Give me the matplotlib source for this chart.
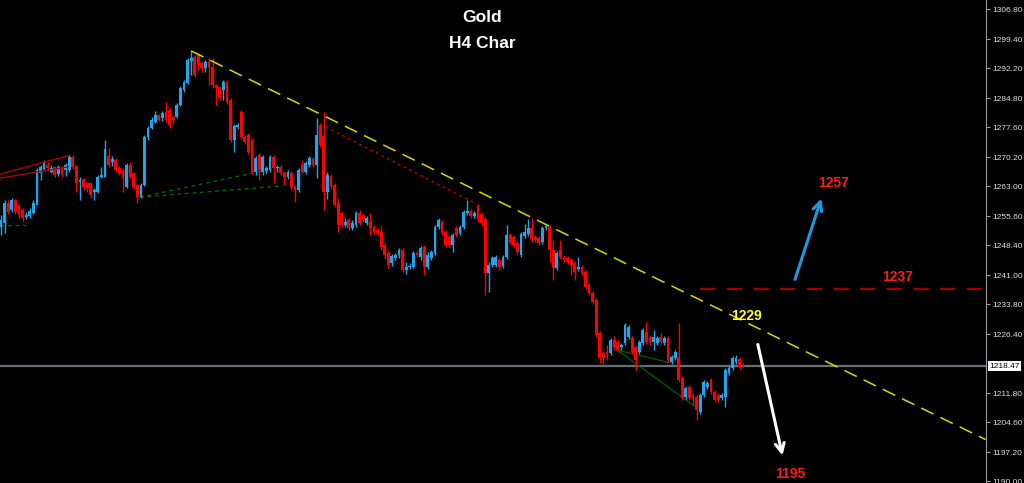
import numpy as np
import matplotlib
matplotlib.use("Agg")
import matplotlib.pyplot as plt

# H4 gold candles (oldest -> newest)
opens = [
    1252.9, 1253.9, 1258.9, 1257.1, 1259.6, 1258.4, 1257.1, 1255.4, 1255.6, 1256.4,
    1258.4, 1266.3, 1267.3, 1268.3, 1266.5, 1267.8, 1266.0, 1267.8, 1267.0, 1267.0,
    1270.2, 1268.0, 1264.1, 1264.8, 1263.8, 1263.8, 1261.6, 1261.6, 1265.3, 1265.3,
    1270.5, 1269.0, 1269.5, 1267.5, 1267.0,
    1262.8, 1268.3, 1266.3, 1263.3, 1260.3, 1263.3, 1275.2, 1277.4, 1278.9, 1280.6,
    1279.9, 1281.4, 1281.9, 1280.1, 1280.1, 1283.1, 1286.8, 1288.6, 1294.0, 1295.0,
    1295.5, 1293.5, 1292.3, 1293.8, 1292.5, 1288.1, 1287.6, 1286.8, 1288.8, 1284.4,
    1274.5, 1277.7, 1281.4, 1275.2, 1275.7,
    1274.5, 1266.5, 1270.7, 1266.5, 1266.8, 1267.0, 1270.2, 1267.5, 1267.8, 1266.3,
    1265.3, 1266.3, 1262.8, 1262.1, 1268.3, 1266.5, 1268.3, 1269.7, 1268.3, 1278.2,
    1275.4, 1261.6, 1265.5, 1263.3, 1258.9, 1256.4, 1253.4, 1254.7, 1252.7, 1253.4,
    1256.4, 1255.9, 1253.9, 1254.2, 1252.9,
    1252.2, 1251.7, 1248.5, 1246.5, 1244.0, 1245.2, 1246.0, 1247.2, 1242.3, 1243.0,
    1243.0, 1246.5, 1245.5, 1248.0, 1243.0, 1245.2, 1246.5, 1252.9, 1254.2, 1251.7,
    1250.4, 1248.5, 1252.7, 1251.4, 1252.9, 1256.4, 1256.9, 1255.6, 1258.1, 1256.1,
    1254.9, 1241.5, 1243.5, 1243.5, 1244.7,
    1243.3, 1245.5, 1250.9, 1250.4, 1249.0, 1246.0, 1250.7, 1251.2, 1252.7, 1250.4,
    1250.2, 1249.2, 1252.7, 1252.9, 1247.2, 1242.8, 1247.2, 1245.5, 1245.2, 1244.7,
    1244.0, 1242.5, 1243.0, 1241.8, 1238.6, 1236.6, 1234.9, 1226.7, 1221.7, 1222.0,
    1221.7, 1225.0, 1224.5, 1223.2, 1224.2,
    1225.7, 1225.5, 1223.2, 1222.0, 1224.2, 1226.9, 1225.7, 1224.5, 1224.2, 1225.7,
    1224.2, 1225.5, 1219.5, 1220.5, 1220.7, 1215.5, 1210.8, 1213.3, 1211.3, 1210.8,
    1207.1, 1211.3, 1213.3, 1215.0, 1212.1, 1211.3, 1210.6, 1210.8, 1216.8, 1218.0,
    1219.5, 1220.2, 1218.8,
]
highs = [
    1255.9, 1259.6, 1259.6, 1260.1, 1259.8, 1258.6, 1257.6, 1256.6, 1257.6, 1259.6,
    1267.5, 1268.3, 1269.5, 1269.0, 1268.3, 1268.0, 1268.3, 1268.0, 1268.8, 1270.7,
    1270.7, 1268.3, 1265.3, 1265.0, 1264.1, 1264.1, 1262.6, 1265.8, 1267.8, 1274.5,
    1272.5, 1270.5, 1270.0, 1268.0, 1267.5,
    1268.8, 1269.0, 1266.5, 1263.6, 1263.8, 1275.7, 1277.9, 1280.1, 1281.6, 1280.9,
    1281.6, 1283.9, 1282.4, 1280.6, 1283.6, 1287.8, 1289.3, 1294.7, 1296.5, 1295.5,
    1295.7, 1294.0, 1294.2, 1294.7, 1294.7, 1288.3, 1287.8, 1289.3, 1289.3, 1284.8,
    1278.4, 1278.7, 1281.9, 1275.7, 1276.2,
    1275.0, 1270.5, 1271.2, 1270.7, 1268.0, 1270.7, 1270.7, 1268.3, 1268.3, 1266.8,
    1267.0, 1266.8, 1263.3, 1267.5, 1269.5, 1269.3, 1270.5, 1270.2, 1279.9, 1278.7,
    1281.4, 1266.5, 1266.0, 1263.8, 1260.1, 1256.9, 1255.1, 1255.1, 1254.7, 1256.9,
    1257.1, 1256.4, 1255.6, 1256.4, 1253.4,
    1252.7, 1253.2, 1249.0, 1247.2, 1246.2, 1246.5, 1247.7, 1247.7, 1244.3, 1244.0,
    1247.0, 1247.2, 1248.2, 1248.5, 1246.7, 1247.2, 1253.4, 1255.1, 1254.7, 1252.2,
    1250.9, 1251.4, 1253.2, 1253.4, 1257.1, 1259.6, 1257.4, 1256.9, 1258.6, 1256.6,
    1255.4, 1244.3, 1245.7, 1246.0, 1245.2,
    1246.0, 1253.4, 1251.4, 1250.9, 1249.5, 1251.7, 1253.7, 1254.9, 1255.1, 1250.9,
    1250.7, 1253.2, 1253.4, 1253.4, 1249.7, 1247.0, 1249.7, 1246.0, 1245.7, 1245.2,
    1244.5, 1245.5, 1243.5, 1242.3, 1239.1, 1237.1, 1235.3, 1227.2, 1222.2, 1223.7,
    1225.5, 1225.9, 1225.0, 1224.2, 1229.2,
    1228.7, 1225.9, 1223.7, 1225.0, 1227.9, 1229.4, 1226.2, 1227.4, 1225.9, 1226.7,
    1225.9, 1225.9, 1221.2, 1222.5, 1229.2, 1216.0, 1213.6, 1213.8, 1211.8, 1211.3,
    1211.8, 1215.0, 1214.8, 1215.5, 1212.6, 1211.8, 1211.8, 1218.0, 1218.5, 1221.0,
    1221.2, 1220.7, 1219.3,
]
lows = [
    1250.9, 1251.4, 1256.1, 1256.6, 1256.1, 1255.1, 1254.2, 1254.9, 1255.1, 1256.1,
    1258.4, 1264.6, 1267.0, 1267.0, 1266.3, 1265.3, 1265.5, 1265.3, 1265.5, 1266.5,
    1267.3, 1261.6, 1259.6, 1262.1, 1261.6, 1260.1, 1259.6, 1261.3, 1265.0, 1265.3,
    1267.8, 1268.0, 1266.5, 1265.8, 1261.6,
    1262.6, 1265.0, 1262.3, 1258.9, 1260.1, 1263.1, 1274.5, 1277.2, 1278.7, 1279.2,
    1279.2, 1278.9, 1277.4, 1278.4, 1279.9, 1282.9, 1286.3, 1288.3, 1290.5, 1290.0,
    1291.8, 1291.3, 1291.3, 1288.1, 1287.3, 1283.1, 1284.4, 1284.4, 1283.4, 1273.9,
    1271.5, 1277.2, 1274.7, 1273.5, 1271.0,
    1266.0, 1265.8, 1264.6, 1265.8, 1266.3, 1266.5, 1263.8, 1266.5, 1265.8, 1263.3,
    1264.8, 1262.1, 1259.1, 1261.6, 1266.3, 1266.0, 1267.8, 1267.8, 1265.0, 1272.7,
    1257.1, 1259.8, 1262.3, 1257.8, 1251.7, 1252.9, 1252.9, 1252.2, 1252.2, 1252.9,
    1253.4, 1254.2, 1253.4, 1250.9, 1251.2,
    1250.9, 1247.2, 1245.0, 1242.8, 1243.3, 1244.8, 1245.2, 1241.8, 1241.3, 1242.5,
    1242.8, 1245.5, 1244.8, 1241.0, 1242.5, 1244.8, 1246.0, 1252.4, 1250.9, 1248.0,
    1248.0, 1246.7, 1250.4, 1250.9, 1252.4, 1255.9, 1255.1, 1255.1, 1254.2, 1253.2,
    1236.1, 1236.8, 1243.0, 1243.0, 1242.3,
    1242.8, 1245.0, 1248.7, 1248.0, 1246.2, 1245.5, 1250.2, 1250.7, 1249.2, 1249.2,
    1248.5, 1248.7, 1252.2, 1244.3, 1239.8, 1242.3, 1245.0, 1244.3, 1243.8, 1241.0,
    1239.8, 1242.0, 1241.0, 1237.6, 1236.1, 1233.9, 1225.7, 1219.3, 1218.8, 1220.0,
    1221.2, 1222.5, 1222.0, 1222.5, 1223.7,
    1225.2, 1221.5, 1217.5, 1221.5, 1223.7, 1224.0, 1223.7, 1222.5, 1223.7, 1224.0,
    1223.7, 1219.5, 1219.0, 1220.0, 1214.6, 1210.1, 1210.3, 1210.1, 1208.9, 1205.2,
    1206.6, 1210.8, 1212.8, 1211.6, 1209.6, 1209.6, 1210.1, 1208.4, 1216.3, 1217.5,
    1219.0, 1217.8, 1218.3,
]
closes = [
    1254.7, 1258.9, 1256.6, 1259.6, 1256.6, 1255.9, 1255.1, 1255.9, 1256.9, 1258.9,
    1267.0, 1267.8, 1268.8, 1267.5, 1267.5, 1265.8, 1267.8, 1265.8, 1268.3, 1270.2,
    1267.8, 1263.8, 1264.3, 1262.8, 1262.6, 1260.8, 1262.1, 1265.3, 1265.8, 1272.2,
    1268.3, 1269.7, 1267.0, 1266.3, 1265.3,
    1268.3, 1265.3, 1262.8, 1260.3, 1263.3, 1275.2, 1277.4, 1279.4, 1280.6, 1279.4,
    1281.1, 1279.4, 1278.2, 1279.4, 1283.1, 1287.3, 1288.8, 1294.2, 1294.7, 1290.5,
    1293.0, 1292.3, 1293.8, 1292.5, 1288.1, 1287.3, 1284.8, 1288.8, 1283.9, 1274.5,
    1277.9, 1278.2, 1275.2, 1274.0, 1271.5,
    1266.5, 1270.0, 1267.0, 1270.2, 1267.5, 1270.2, 1267.5, 1267.8, 1266.3, 1265.3,
    1266.5, 1262.8, 1262.1, 1267.0, 1266.5, 1268.8, 1270.0, 1268.3, 1275.7, 1273.2,
    1261.6, 1265.8, 1262.8, 1258.4, 1253.4, 1253.4, 1254.2, 1252.7, 1253.9, 1256.4,
    1253.9, 1254.7, 1255.1, 1252.7, 1251.7,
    1251.4, 1248.0, 1246.0, 1243.5, 1245.7, 1246.0, 1247.2, 1242.3, 1243.0, 1243.3,
    1246.5, 1246.0, 1247.7, 1243.0, 1246.0, 1246.7, 1252.9, 1254.7, 1251.4, 1248.5,
    1248.5, 1250.9, 1250.9, 1252.9, 1256.6, 1256.9, 1255.6, 1256.4, 1254.7, 1253.9,
    1241.5, 1243.5, 1245.2, 1245.5, 1243.0,
    1245.5, 1250.9, 1249.2, 1248.5, 1246.7, 1251.2, 1251.7, 1252.7, 1249.9, 1249.7,
    1248.9, 1252.7, 1252.9, 1247.2, 1242.8, 1246.5, 1245.5, 1244.7, 1244.3, 1243.5,
    1241.8, 1243.0, 1241.5, 1238.1, 1236.6, 1234.4, 1226.2, 1220.5, 1220.5, 1221.5,
    1225.0, 1223.2, 1222.5, 1223.7, 1228.7,
    1228.2, 1222.0, 1220.0, 1224.5, 1227.4, 1224.5, 1224.2, 1225.7, 1225.5, 1224.5,
    1225.5, 1220.0, 1220.7, 1222.0, 1215.0, 1210.6, 1213.1, 1210.6, 1210.6, 1207.6,
    1211.3, 1214.6, 1214.3, 1212.1, 1210.1, 1210.1, 1211.3, 1217.5, 1218.0, 1220.5,
    1220.5, 1218.3, 1218.5,
]

price_ticks = [1306.80, 1299.40, 1292.20, 1284.80, 1277.60, 1270.20, 1263.00, 1255.60,
               1248.40, 1241.00, 1233.80, 1226.40, 1211.80, 1204.60, 1197.20, 1190.00]
last_price = 1218.47

# drawn objects: (bar index, price) pairs
yellow_trend = [(53, 1296.5), (274.6, 1200.3)]
red_dotted = [(89, 1278.4), (132.6, 1258.6)]
red_left_1 = [(-0.3, 1266.0), (19.3, 1270.7)]
red_left_2 = [(-0.3, 1265.0), (18.7, 1267.8)]
green_dash_1 = [(38.8, 1260.3), (74.2, 1267.0)]
green_dash_2 = [(38.8, 1260.3), (78.7, 1263.1)]
green_dash_3 = [(-0.3, 1253.4), (8.0, 1253.4)]
green_line_1 = [(171.8, 1222.5), (186.6, 1219.3)]
green_line_2 = [(171.8, 1222.5), (194.1, 1208.1)]
resistance = 1237.5
resistance_start = 195
blue_arrow = [(221.2, 1239.3), (229.0, 1260.6)]
white_arrow = [(210.9, 1224.5), (218.1, 1195.7)]
labels = [("1257", 232.1, 1263.8, "#ff1a1a"), ("1237", 250.0, 1240.5, "#ff1a1a"),
          ("1229", 207.8, 1230.9, "#ffff33"), ("1195", 220.1, 1191.8, "#ff1a1a")]

o = np.array(opens); c = np.array(closes)
h = np.array(highs); l = np.array(lows)
x = np.arange(len(c))
up = c >= o
bull, bear = "#1ea5ec", "#ff0000"
cols = np.where(up, bull, bear)

fig = plt.figure(figsize=(10.24, 4.83), dpi=100, facecolor="black")
ax = fig.add_axes([0, 0, 986 / 1024, 1])
ax.set_facecolor("black")

ax.vlines(x, np.minimum(l, np.minimum(o, c)), np.maximum(h, np.maximum(o, c)),
          colors=cols, lw=1.0, zorder=3)
body = np.maximum(np.abs(c - o), 0.35)
ax.bar(x, body, bottom=np.minimum(o, c), width=0.78, color=cols, lw=0, zorder=4)

def seg(pts, **kw):
    (x0, y0), (x1, y1) = pts
    ax.plot([x0, x1], [y0, y1], **kw)

seg(yellow_trend, color="#d8d800", lw=1.1, dashes=(9, 5), zorder=5)
seg(red_dotted, color="#c00000", lw=1.0, dashes=(2, 2.5), zorder=5)
seg(red_left_1, color="#b00000", lw=1.0, zorder=5)
seg(red_left_2, color="#b00000", lw=1.0, zorder=5)
for g in (green_dash_1, green_dash_2, green_dash_3):
    seg(g, color="#007000", lw=0.9, dashes=(3, 3), zorder=2)
for g in (green_line_1, green_line_2):
    seg(g, color="#006000", lw=0.9, zorder=2)

ax.axhline(last_price, color="#6a6e78", lw=1.6, zorder=1)
ax.plot([resistance_start, 275], [resistance, resistance], color="#a00000",
        lw=1.6, dashes=(7, 5), zorder=5)

ax.annotate("", xy=blue_arrow[1], xytext=blue_arrow[0],
            arrowprops=dict(arrowstyle="->", color="#1e9be0", lw=2.2, mutation_scale=16))
ax.annotate("", xy=white_arrow[1], xytext=white_arrow[0],
            arrowprops=dict(arrowstyle="->", color="white", lw=2.2, mutation_scale=16))

for txt, lx, ly, col in labels:
    ax.text(lx, ly, txt, color=col, fontsize=10, fontweight="bold",
            family="Liberation Sans", ha="center", va="center", zorder=6)

fig.text(482 / 1024, 1 - 18 / 483, "Gold", color="white", fontsize=12.5,
         fontweight="bold", family="Liberation Sans", ha="center", va="center")
fig.text(482 / 1024, 1 - 43 / 483, "H4 Char", color="white", fontsize=12.5,
         fontweight="bold", family="Liberation Sans", ha="center", va="center")

ax.set_xlim(-0.3, 274.7)
ax.set_ylim(1189.55, 1309.1)
ax.set_xticks([])
ax.yaxis.tick_right()
ax.set_yticks(price_ticks)
ax.set_yticklabels([f"{p:.2f}" for p in price_ticks])
ax.tick_params(axis="y", colors="#9a9a9a", length=3, width=0.8, pad=1.5,
               labelsize=6, labelcolor="#e0e0e0")
for lab in ax.get_yticklabels():
    lab.set_family("Liberation Sans")
for s in ("top", "bottom", "left"):
    ax.spines[s].set_visible(False)
ax.spines["right"].set_color("#9a9a9a")

ax.text(1.003, last_price, "1218.47", transform=ax.get_yaxis_transform(),
        fontsize=6, family="Liberation Sans", color="black", va="center", ha="left",
        bbox=dict(boxstyle="square,pad=0.15", fc="white", ec="none"), clip_on=False)

fig.savefig("out.png", dpi=100, facecolor="black")
